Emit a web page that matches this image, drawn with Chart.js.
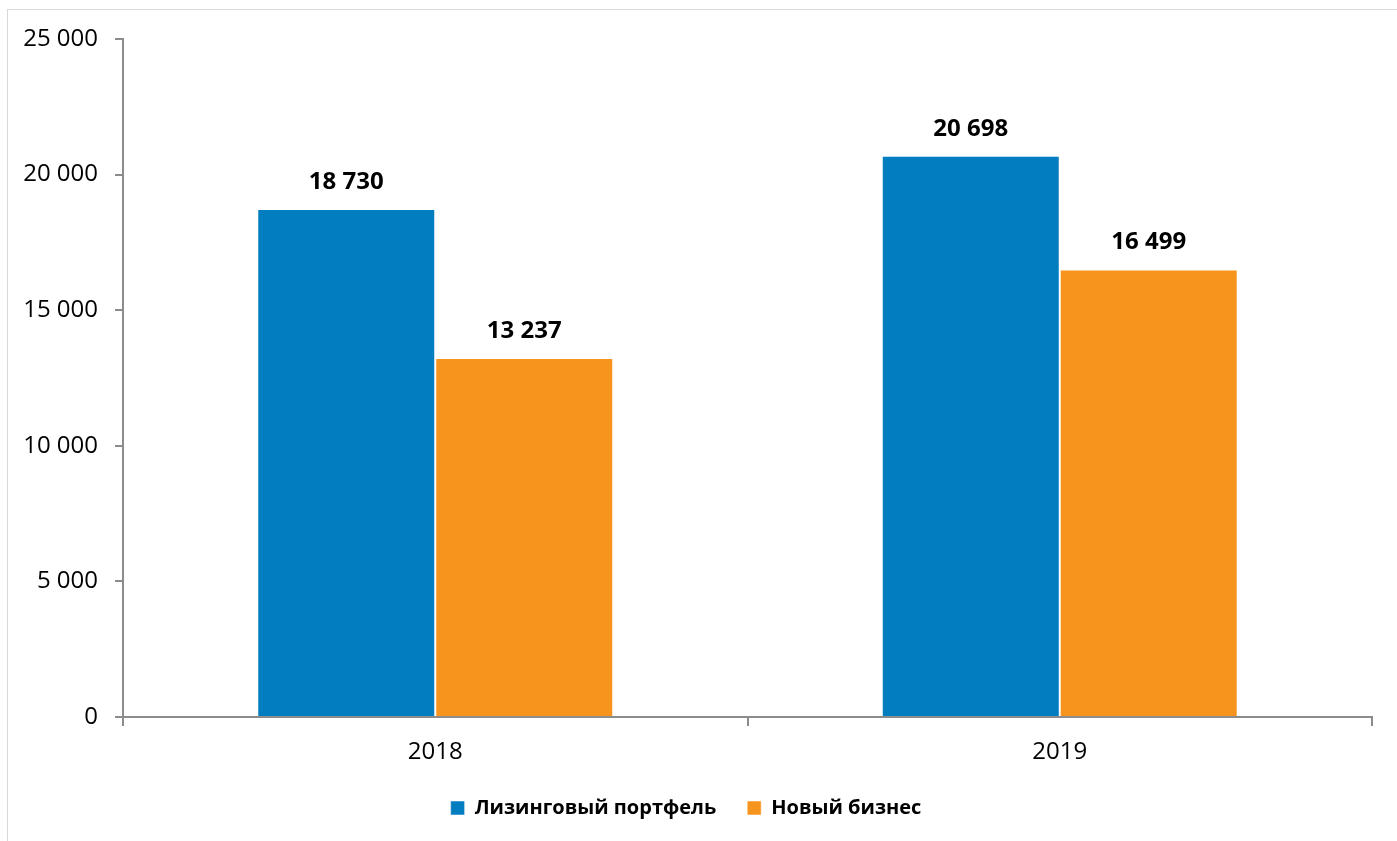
<!DOCTYPE html>
<html>
<head>
<meta charset="utf-8">
<script src="https://cdn.jsdelivr.net/npm/chart.js@4.4.1/dist/chart.umd.min.js"></script>
<style>
  html, body { margin: 0; padding: 0; background: #fff; overflow: hidden; }
  #frame { position: absolute; left: 7px; top: 9px; width: 1500px; height: 1000px;
           border-left: 1px solid #d9d9d9; border-top: 1px solid #d9d9d9; }
  #wrap { position: absolute; left: 0; top: 0; width: 1397px; height: 841px; }
</style>
</head>
<body>
<div id="frame"></div>
<div id="wrap"><canvas id="myChart"></canvas></div>
<script>
let years = ["2018", "2019"];
let portfolio = [18730, 20698];
let newBusiness = [13237, 16499];
let seriesNames = ["Лизинговый портфель", "Новый бизнес"];

let fmt = (v) => String(v).replace(/\B(?=(\d{3})+(?!\d))/g, " ");

let axisColor = "#8c8c8c";

// value labels above bars
let barLabels = {
  id: "barLabels",
  afterDatasetsDraw(chart) {
    let c = chart.ctx;
    c.save();
    c.font = "bold 24px 'Open Sans'";
    c.fillStyle = "#000";
    c.textAlign = "center";
    c.textBaseline = "middle";
    chart.data.datasets.forEach((ds, i) => {
      chart.getDatasetMeta(i).data.forEach((bar, j) => {
        c.fillText(fmt(ds.data[j]), bar.x, bar.y - 27);
      });
    });
    c.restore();
  },
};

let ctx = document.getElementById("myChart");

let graphData = {
  type: "bar",
  data: {
    labels: years,
    datasets: [
      {
        label: seriesNames[0],
        data: portfolio,
        backgroundColor: "#027dc0",
        borderColor: "rgba(255,255,255,0.5)",
        borderWidth: 1,
      },
      {
        label: seriesNames[1],
        data: newBusiness,
        backgroundColor: "#f7941e",
        borderColor: "rgba(255,255,255,0.5)",
        borderWidth: 1,
      },
    ],
  },
  options: {
    responsive: true,
    maintainAspectRatio: false,
    animation: false,
    datasets: { bar: { categoryPercentage: 0.57, barPercentage: 1 } },
    layout: { padding: { top: 39, right: 25, bottom: 13, left: 0 } },
    plugins: {
      tooltip: { enabled: false },
      legend: {
        position: "bottom",
        labels: {
          boxWidth: 14,
          boxHeight: 14,
          padding: 31,
          color: "#000",
          font: { family: "'Open Sans'", size: 20, weight: "bold" },
        },
      },
    },
    scales: {
      x: {
        afterFit: (s) => { s.height = 50; },
        border: { color: axisColor, width: 2 },
        grid: { drawOnChartArea: false, drawTicks: true, tickLength: 9, color: axisColor, lineWidth: 2 },
        ticks: { padding: 12, color: "#000", font: { family: "'Open Sans'", size: 24 } },
      },
      y: {
        min: 0,
        max: 25000,
        afterFit: (s) => { s.width = 123; },
        border: { color: axisColor, width: 2 },
        grid: { drawOnChartArea: false, drawTicks: true, tickLength: 8, color: axisColor, lineWidth: 2 },
        ticks: {
          stepSize: 5000,
          padding: 17,
          color: "#000",
          font: { family: "'Open Sans'", size: 24 },
          callback: (v) => fmt(v),
        },
      },
    },
  },
  plugins: [barLabels],
};

let myChart = new Chart(ctx, graphData);
</script>
</body>
</html>
